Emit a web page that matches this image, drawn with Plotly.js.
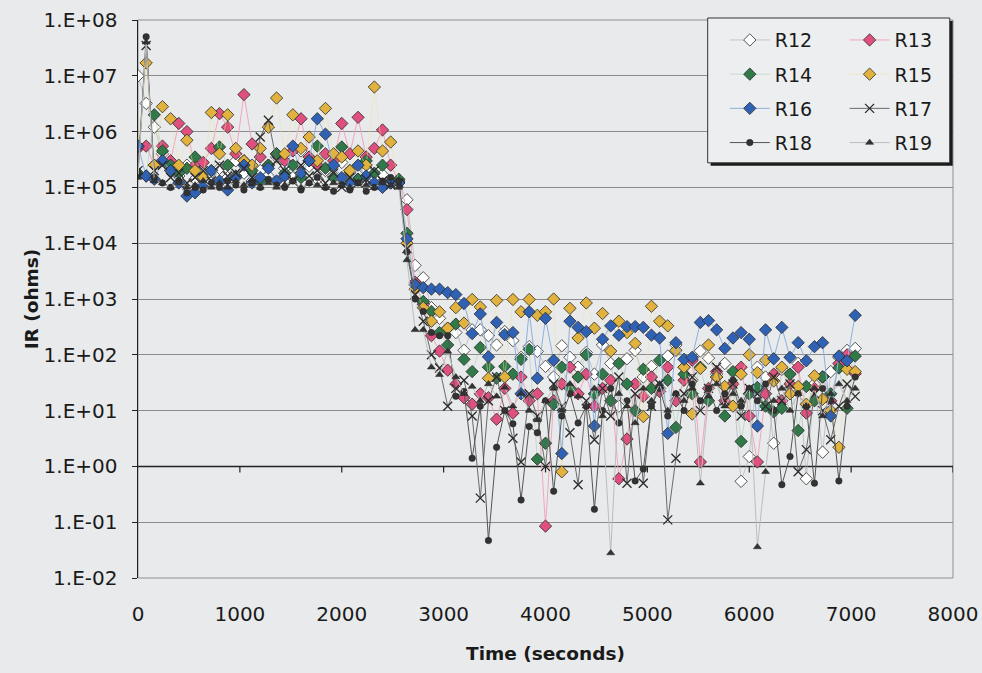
<!DOCTYPE html>
<html>
<head>
<meta charset="utf-8">
<script src="https://cdn.plot.ly/plotly-3.0.1.min.js"></script>
<style>html,body{margin:0;padding:0;background:#e9ebec;}#chart{width:982px;height:673px;}</style>
</head>
<body>
<div id="chart"></div>
<script>
// Time (seconds)
const time = [
  0,80,160,240,320,400,480,560,640,720,
  800,880,960,1040,1120,1200,1280,1360,1440,1520,
  1600,1680,1760,1840,1920,2000,2080,2160,2240,2320,
  2400,2480,2560,2640,2720,2800,2880,2960,3040,3120,
  3200,3280,3360,3440,3520,3600,3680,3760,3840,3920,
  4000,4080,4160,4240,4320,4400,4480,4560,4640,4720,
  4800,4880,4960,5040,5120,5200,5280,5360,5440,5520,
  5600,5680,5760,5840,5920,6000,6080,6160,6240,6320,
  6400,6480,6560,6640,6720,6800,6880,6960,7040
];

const R12 = [
  1e7,3.2e6,1.2e6,4e5,2e5,1.6e5,2.5e5,1.4e5,1.8e5,1.2e5,
  2.2e5,1.5e5,3e5,1.8e5,1.3e5,2e5,1.6e5,3.5e5,2.2e5,1.5e5,
  4.5e5,2.4e5,1.4e5,2e5,1.6e5,2.8e5,1.8e5,1.4e5,2e5,1.5e5,
  1.7e5,1.3e5,1.2e5,6e4,4e3,2.4e3,700,450,300,250,
  120,280,280,220,150,260,180,90,140,115,
  62,40,145,90,60,110,45,150,70,12,
  85,120,40,62,25,95,150,60,35,117,
  87,45,70,30,0.54,1.5,60,40,2.6,55,
  25,70,0.6,30,1.8,50,90,120,130
];
const R13 = [
  5e5,5.5e5,2.5e5,5.5e5,3e5,1.4e6,1e6,2.5e5,2.8e5,5e5,
  2.1e6,1.2e6,4e5,4.6e6,6e5,3.5e5,2.5e5,4e5,3e5,4.5e5,
  1.7e6,3.5e5,2.5e5,4e5,3e5,1.4e6,4e5,1.8e6,3.5e5,5e5,
  1.07e6,2.5e5,1.3e5,4e4,2e3,800,220,117,53,30,
  17,13,20,17,7,25,9,40,15,20,
  0.085,15,30,60,20,45,12,25,35,0.6,
  3.1,30,18,40,22,60,15,35,80,1.2,
  25,50,15,30,60,8,1.2,20,45,15,
  30,60,9,25,40,15,70,100,46
];
const R14 = [
  1.8e5,1.6e5,2e6,4.5e5,2.5e5,1.8e5,2.2e5,3.5e5,1.5e5,2e5,
  5.3e5,2.5e5,1.6e5,3e5,2e5,1.3e5,2.5e5,4e5,1.8e5,2.5e5,
  1.5e5,3e5,5.5e5,2.2e5,1.5e5,5.3e5,2e5,1.4e5,3e5,1.8e5,
  2.5e5,1.2e5,1.4e5,1.5e4,1.8e3,900,600,250,150,355,
  83,50,135,60,38,62,45,83,125,1.35,
  2.6,13,60,25,40,100,20,45,15,70,
  30,10,55,25,80,35,5,45,20,60,
  15,40,8,50,2.8,20,26,12,9.5,11,
  45,4.4,27,15,40,20,58,11,95
];
const R15 = [
  5.5e5,1.7e7,2.5e5,2.8e6,1.7e6,2.5e5,7e5,2e5,1.5e5,2.2e6,
  4e5,2e6,5e5,3e5,2.5e5,5e5,1.2e6,4e6,4e5,2e6,
  5e5,8e5,3e5,2.6e6,4e5,3.5e5,2e5,4.5e5,2.5e5,6.3e6,
  4.5e5,6.5e5,1.2e5,1e4,1.5e3,700,400,590,300,700,
  370,980,720,38,940,40,980,590,980,510,
  590,1000,0.8,680,200,850,300,550,117,400,
  250,160,7.8,740,400,330,120,60,8.7,57,
  150,40,27,12,45,100,48,80,34,60,
  20,27,13,42,16,10,2.2,55,50
];
const R16 = [
  5.5e5,1.6e5,1.4e5,3e5,2e5,1.2e5,7e4,8e4,1.1e5,2e5,
  1.3e5,9e4,1.5e5,2.5e5,1.2e5,1.5e5,2.2e5,1.3e5,1.6e5,5.5e5,
  1.8e5,3e5,1.7e6,9e5,2.5e5,1.5e5,1.2e5,2.5e5,1.6e5,1.2e5,
  1e5,1.2e5,1.2e5,1.2e4,1.8e3,1.6e3,1.5e3,1.5e3,1.3e3,1.2e3,
  830,240,540,92,380,230,250,20,590,38,
  450,80,1.7,400,310,260,5.3,190,330,225,
  320,320,310,225,200,3.9,165,83,90,380,
  410,280,130,200,250,190,5.3,280,85,310,
  90,165,78,140,165,8,95,78,510
];
const R17 = [
  2e5,3.5e7,2e5,2.5e5,1.5e5,1.8e5,1.2e5,1.5e5,2e5,1.3e5,
  2.5e5,1.6e5,1.8e5,2.2e5,1.5e5,8e5,1.6e6,3e5,2e5,1.3e5,
  2.5e5,1.6e5,2e5,1.2e5,1.8e5,1e5,1.5e5,1.2e5,1.4e5,2e5,
  1.3e5,1.1e5,1.2e5,8e3,1.2e3,400,100,58,12,25,
  35,8,0.27,15,40,10,3.2,1.2,20,8,
  1,30,12,4,0.47,15,3,25,8,40,
  0.5,20,0.5,12,30,0.11,1.4,20,40,10,
  25,60,15,30,8,25,20,12,40,15,
  30,0.8,2,20,10,3,12,30,18
];
const R18 = [
  1.8e5,5e7,1.5e5,1.2e5,1e5,1.3e5,8e4,1e5,9e4,1.2e5,
  1e5,1.3e5,1.1e5,9e4,1.2e5,1e5,1.4e5,1.1e5,1e5,1.3e5,
  9e4,1.2e5,1.5e5,1e5,8.5e4,1.1e5,9e4,1.2e5,8.5e4,1e5,
  1.3e5,1.5e5,1.3e5,7e3,1e3,600,250,220,220,18,
  22,1.4,12,0.047,2.2,10,5.8,0.25,5.2,4,
  15,0.36,8,20,6,12,0.17,10,25,6,
  15,0.55,0.9,12,25,8,20,10,30,15,
  25,10,20,35,12,25,15,30,10,0.47,
  1.5,20,12,0.5,25,15,0.55,12,40
];
const R19 = [
  1.5e5,4e7,1.3e5,1.2e5,1e5,1.2e5,1e5,1.1e5,1.3e5,1e5,
  1.2e5,1e5,1.3e5,1.1e5,1.2e5,1e5,1.2e5,1e5,1.1e5,1.3e5,
  1e5,1.2e5,1.1e5,1e5,1.2e5,1.1e5,1e5,1.2e5,1.1e5,1e5,
  1.2e5,1.1e5,1e5,5e3,280,280,60,44,115,40,
  20,27,15,30,18,26,12,20,10,6.8,
  15,25,10,30,18,12,25,8,0.028,20,
  12,6,25,15,30,10,20,15,25,0.5,
  18,30,12,20,15,25,0.036,0.8,15,25,
  10,20,12,25,8,20,30,15,25
];

const seriesNames = ['R12','R13','R14','R15','R16','R17','R18','R19'];
const yTickVals = [1e-2,1e-1,1,10,100,1e3,1e4,1e5,1e6,1e7,1e8];
const yTickText = ['1.E-02','1.E-01','1.E+00','1.E+01','1.E+02','1.E+03','1.E+04','1.E+05','1.E+06','1.E+07','1.E+08'];
const xTickVals = [0,1000,2000,3000,4000,5000,6000,7000,8000];

const outline = {color:'#2a2a2a', width:0.8};
const styles = {
  R12:{symbol:'diamond', size:9.5, color:'#ffffff', line:outline, lc:'rgba(170,170,170,0.6)', leg:'legend'},
  R13:{symbol:'diamond', size:9.5, color:'#e0507e', line:outline, lc:'#f2a6bd', leg:'legend2'},
  R14:{symbol:'diamond', size:9.5, color:'#2f7a48', line:outline, lc:'rgba(150,195,165,0.45)', leg:'legend'},
  R15:{symbol:'diamond', size:9.5, color:'#e2b23e', line:outline, lc:'rgba(240,225,160,0.5)', leg:'legend2'},
  R16:{symbol:'diamond', size:9.5, color:'#2f62b5', line:outline, lc:'#8fb0de', leg:'legend'},
  R17:{symbol:'x-thin-open', size:9, color:'#2a2a2a', line:{color:'#2a2a2a', width:1.3}, lc:'#6a6a6a', leg:'legend2'},
  R18:{symbol:'circle', size:6.5, color:'#333333', line:{color:'#222', width:0.5}, lc:'#555555', leg:'legend'},
  R19:{symbol:'triangle-up', size:7, color:'#333333', line:{color:'#222', width:0.5}, lc:'#bdbdbd', leg:'legend2'}
};
const values = {R12, R13, R14, R15, R16, R17, R18, R19};

const traces = seriesNames.map(n => {
  const s = styles[n];
  return {
    type:'scatter', mode:'lines+markers', name:n,
    x: time, y: values[n],
    legend: s.leg, legendgroup: n,
    line:{color:s.lc, width:1},
    marker:{symbol:s.symbol, size:s.size, color:s.color, line:s.line}
  };
});

// horizontal axis crosses at 1.E+00 with downward tick marks (about 6 px = 0.11 decade)
const crossAt = 1;
const tickBottom = Math.pow(10, -6 / 55.8);
const shapes = [
  {type:'rect', xref:'paper', yref:'paper', x0:0, x1:1, y0:0, y1:1, line:{color:'#8f8f8f', width:1}, fillcolor:'rgba(0,0,0,0)', layer:'below'},
  {type:'line', xref:'x', yref:'y', x0:0, x1:8000, y0:crossAt, y1:crossAt, line:{color:'#222', width:1.5}, layer:'between'}
];
xTickVals.slice(1).forEach(v => {
  shapes.push({type:'line', xref:'x', yref:'y', x0:v, x1:v, y0:crossAt, y1:tickBottom, line:{color:'#222', width:1.2}, layer:'between'});
});
// legend frame with shadow
shapes.push({type:'rect', xref:'paper', yref:'paper', x0:0.7026, x1:0.9996, y0:0.7386, y1:0.9982, line:{width:0}, fillcolor:'#1a1a1a', layer:'above'});
shapes.push({type:'rect', xref:'paper', yref:'paper', x0:0.699, x1:0.996, y0:0.744, y1:1.0036, line:{color:'#333', width:1}, fillcolor:'#eceeef', layer:'above'});

const tickFamily = '"DejaVu Sans", Arial, sans-serif';
const layout = {
  width:982, height:673,
  margin:{l:138, r:29, t:20, b:95, pad:0},
  paper_bgcolor:'#e8eaeb', plot_bgcolor:'#e8eaeb',
  font: {family: tickFamily, color:'#1a1a1a'},
  showlegend:true,
  xaxis:{
    range:[0,8000], tickvals:xTickVals, ticks:'', showgrid:false, zeroline:false, showline:false,
    tickfont:{family:tickFamily, size:20, color:'#1a1a1a'}, ticklabelstandoff:22,
    title:{text:'<b>Time (seconds)</b>', font:{family:tickFamily, size:18.5, color:'#1a1a1a'}, standoff:22}
  },
  yaxis:{
    type:'log', range:[-2,8], tickvals:yTickVals, ticktext:yTickText,
    showgrid:true, gridcolor:'#8c8c8c', gridwidth:1, zeroline:false,
    showline:true, linecolor:'#222', linewidth:1.5,
    ticks:'outside', ticklen:5, tickcolor:'#222',
    tickfont:{family:tickFamily, size:20, color:'#1a1a1a'}, ticklabelstandoff:10,
    title:{text:'<b>IR (ohms)</b>', font:{family:tickFamily, size:18.5, color:'#1a1a1a'}, standoff:0}
  },
  legend:{x:0.72, xanchor:'left', y:0.998, yanchor:'top', bgcolor:'rgba(0,0,0,0)', borderwidth:0,
          font:{family:tickFamily, size:19, color:'#1a1a1a'}, tracegroupgap:6.5, itemwidth:40},
  legend2:{x:0.867, xanchor:'left', y:0.998, yanchor:'top', bgcolor:'rgba(0,0,0,0)', borderwidth:0,
          font:{family:tickFamily, size:19, color:'#1a1a1a'}, tracegroupgap:6.5, itemwidth:40},
  shapes: shapes
};

Plotly.newPlot('chart', traces, layout, {displayModeBar:false, staticPlot:true});
</script>
</body>
</html>
